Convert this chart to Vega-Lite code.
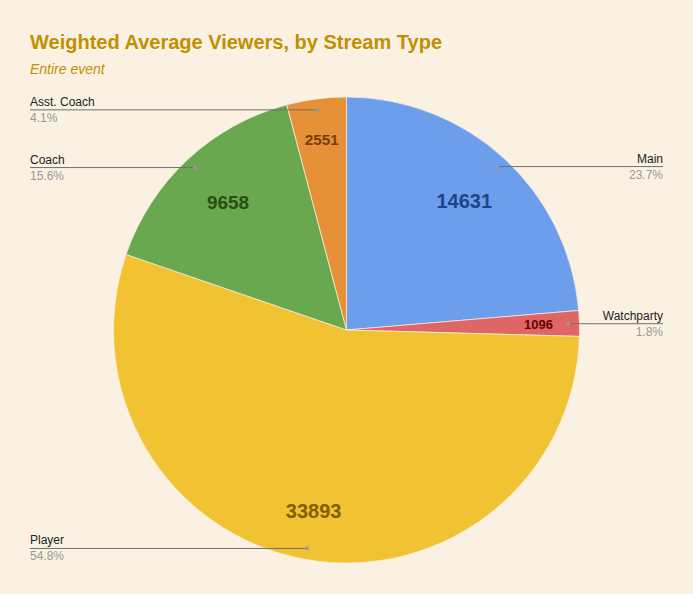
{
  "$schema": "https://vega.github.io/schema/vega-lite/v6.json",
  "background": "#faf1e2",
  "autosize": "none",
  "padding": {"top": 66, "left": 0, "right": 0, "bottom": 0},
  "width": 693,
  "height": 528,
  "title": {
    "text": "Weighted Average Viewers, by Stream Type",
    "subtitle": "Entire event",
    "anchor": "start",
    "frame": "group",
    "dx": 30,
    "offset": -11,
    "font": "Liberation Sans",
    "fontSize": 20,
    "fontWeight": "bold",
    "color": "#bf9000",
    "subtitleFont": "Liberation Sans",
    "subtitleFontSize": 14,
    "subtitleFontStyle": "italic",
    "subtitleColor": "#bf9000",
    "subtitlePadding": 10
  },
  "data": {
    "values": [
      {"type": "Main", "viewers": 14631},
      {"type": "Watchparty", "viewers": 1096},
      {"type": "Player", "viewers": 33893},
      {"type": "Coach", "viewers": 9658},
      {"type": "Asst. Coach", "viewers": 2551}
    ]
  },
  "transform": [
    {"window": [{"op": "row_number", "as": "i"}]},
    {"joinaggregate": [{"op": "sum", "field": "viewers", "as": "total"}]},
    {"window": [{"op": "sum", "field": "viewers", "as": "cum"}], "sort": [{"field": "i"}], "frame": [null, 0]},
    {"calculate": "datum.viewers / datum.total", "as": "share"},
    {"calculate": "2 * PI * (datum.cum - datum.viewers / 2) / datum.total", "as": "mid"},
    {"calculate": "222 * sin(datum.mid)", "as": "ax"},
    {"calculate": "222 * cos(datum.mid)", "as": "ay"},
    {"calculate": "sin(datum.mid) > 0 ? 316.5 : -316.5", "as": "lx"},
    {"calculate": "datum.share < 0.1 ? 192 : datum.share > 0.5 ? 185 : 174", "as": "tr"},
    {"calculate": "datum.tr * sin(datum.mid)", "as": "tx"},
    {"calculate": "datum.tr * cos(datum.mid)", "as": "ty"}
  ],
  "layer": [
    {
      "mark": {"type": "arc", "radius": 233, "stroke": "#faf1e2", "strokeWidth": 0.7},
      "encoding": {
        "theta": {"field": "viewers", "type": "quantitative", "stack": true},
        "order": {"field": "i", "type": "quantitative"},
        "color": {
          "field": "type",
          "type": "nominal",
          "scale": {
            "domain": ["Main", "Watchparty", "Player", "Coach", "Asst. Coach"],
            "range": ["#6d9eeb", "#e06666", "#f1c232", "#6aa84f", "#e69138"]
          },
          "legend": null
        }
      }
    },
    {
      "mark": {"type": "rule", "color": "#6f6f6f", "strokeWidth": 1},
      "encoding": {
        "x": {"field": "ax", "type": "quantitative", "scale": {"domain": [-346.5, 346.5], "nice": false, "zero": false}, "axis": null},
        "x2": {"field": "lx"},
        "y": {"field": "ay", "type": "quantitative", "scale": {"domain": [-264, 264], "nice": false, "zero": false}, "axis": null},
        "y2": {"field": "ay"}
      }
    },
    {
      "mark": {"type": "circle", "size": 14, "color": "#999999", "opacity": 1},
      "encoding": {
        "x": {"field": "ax", "type": "quantitative"},
        "y": {"field": "ay", "type": "quantitative"}
      }
    },
    {
      "mark": {
        "type": "text",
        "font": "Liberation Sans",
        "fontSize": 12,
        "color": "#222222",
        "baseline": "alphabetic",
        "dy": -4,
        "align": {"expr": "datum.lx > 0 ? 'right' : 'left'"}
      },
      "encoding": {
        "x": {"field": "lx", "type": "quantitative"},
        "y": {"field": "ay", "type": "quantitative"},
        "text": {"field": "type"}
      }
    },
    {
      "mark": {
        "type": "text",
        "font": "Liberation Sans",
        "fontSize": 12,
        "color": "#999999",
        "baseline": "alphabetic",
        "dy": 12,
        "align": {"expr": "datum.lx > 0 ? 'right' : 'left'"}
      },
      "encoding": {
        "x": {"field": "lx", "type": "quantitative"},
        "y": {"field": "ay", "type": "quantitative"},
        "text": {"field": "share", "format": ".1%"}
      }
    },
    {
      "mark": {"type": "text", "font": "Liberation Sans", "fontWeight": "bold", "align": "center", "baseline": "middle"},
      "encoding": {
        "x": {"field": "tx", "type": "quantitative"},
        "y": {"field": "ty", "type": "quantitative"},
        "text": {"field": "viewers"},
        "size": {
          "field": "viewers",
          "type": "quantitative",
          "scale": {"type": "log", "domain": [1096, 14631], "range": [13, 20], "clamp": true},
          "legend": null
        },
        "color": {
          "field": "type",
          "type": "nominal",
          "scale": {
            "domain": ["Main", "Watchparty", "Player", "Coach", "Asst. Coach"],
            "range": ["#1c4587", "#660000", "#7f6000", "#274e13", "#783f04"]
          },
          "legend": null
        }
      }
    }
  ],
  "resolve": {"scale": {"color": "independent"}},
  "config": {"view": {"stroke": null}}
}
